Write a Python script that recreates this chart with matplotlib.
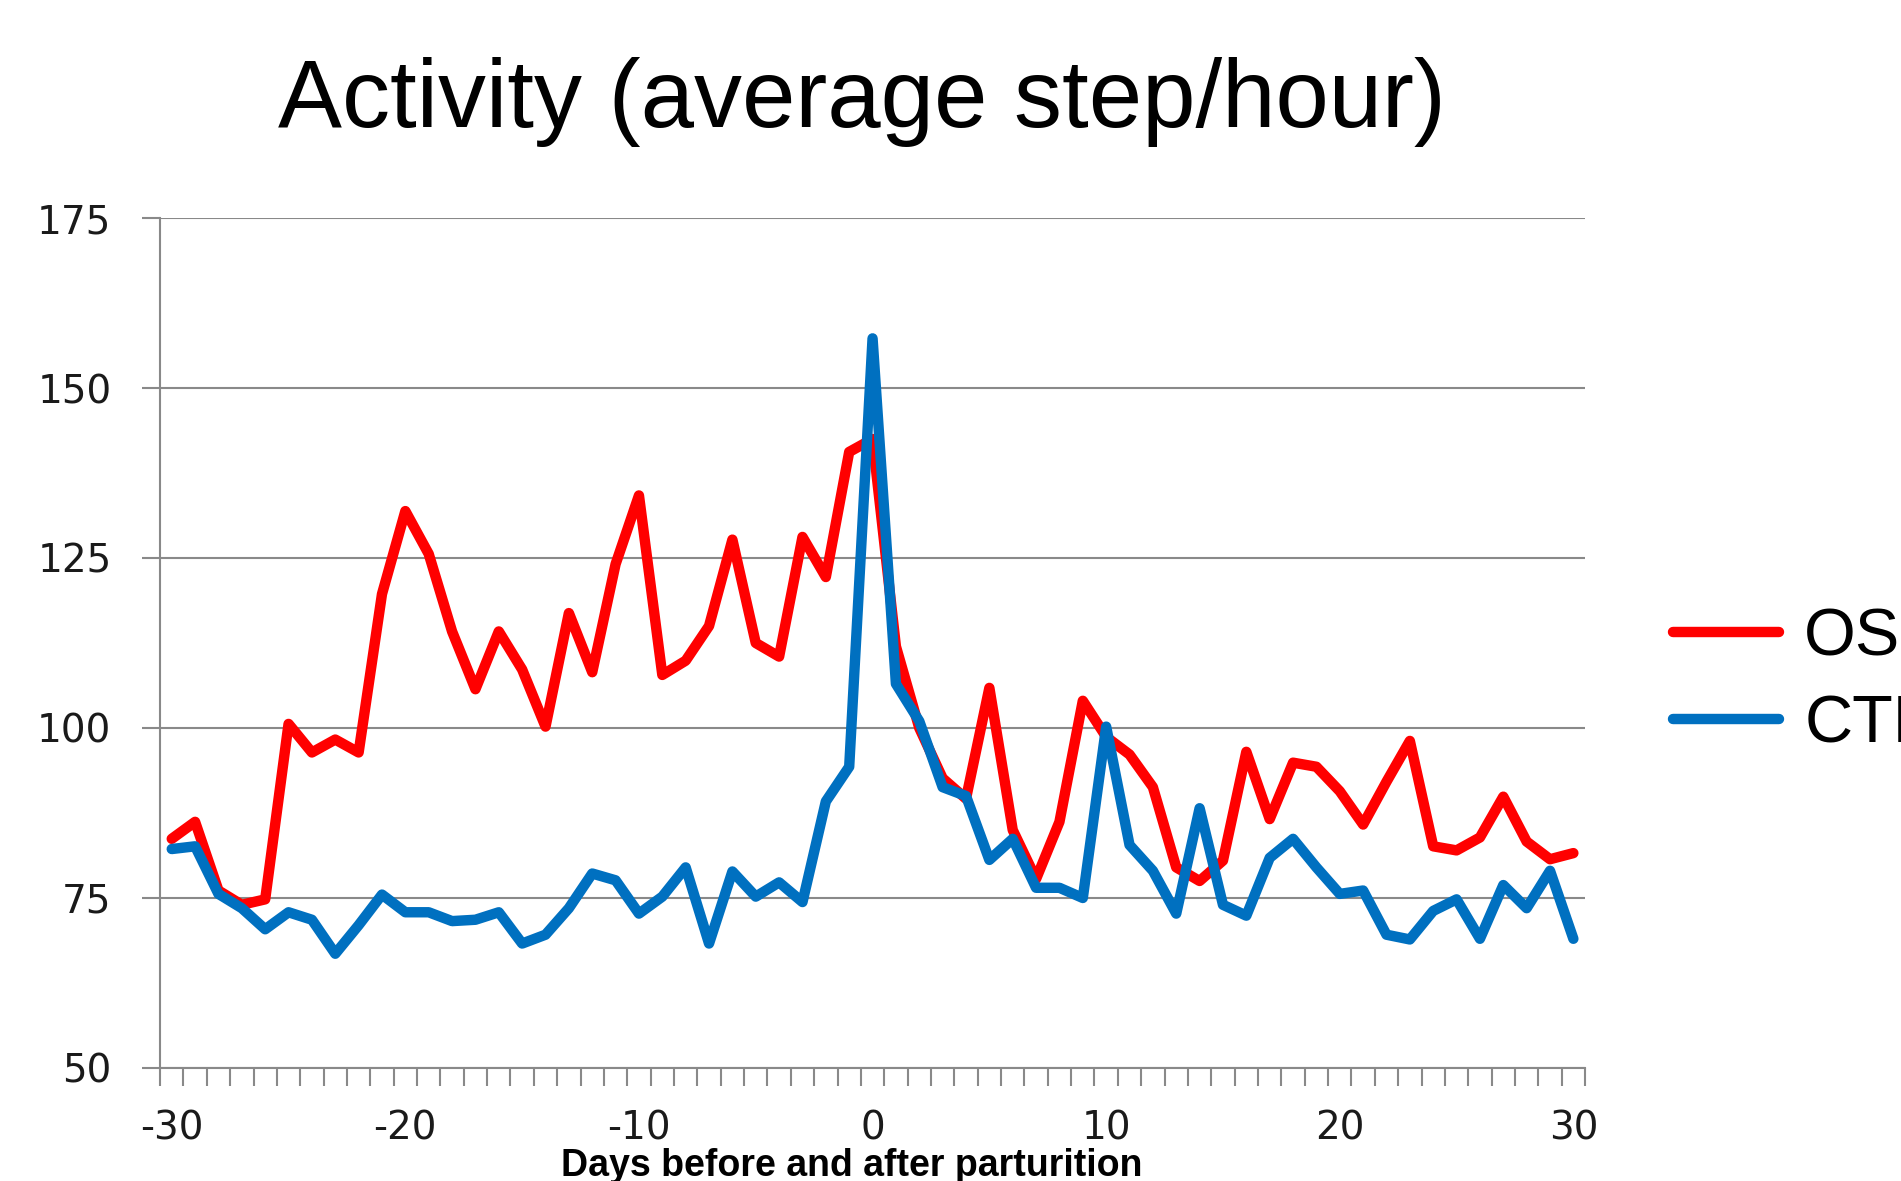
import matplotlib
matplotlib.use("Agg")
import matplotlib.pyplot as plt
import numpy as np

# Days before/after parturition
days = list(range(-30, 31))

# Average steps/hour
os_steps = [83.7, 86.2, 76.1, 74.0, 74.8, 100.6, 96.4, 98.3, 96.4, 119.7,
            131.9, 125.6, 114.2, 105.7, 114.2, 108.6, 100.2, 116.9, 108.2, 124.1,
            134.2, 107.8, 109.9, 115.0, 127.7, 112.5, 110.5, 128.1, 122.2, 140.6,
            142.5,
            112.0, 100.0, 92.6, 89.6, 105.9, 85.0, 77.8, 86.2, 104.0, 98.7,
            96.1, 91.3, 79.5, 77.5, 80.5, 96.5, 86.6, 94.9, 94.3, 90.7,
            85.8, 92.1, 98.1, 82.6, 82.0, 83.9, 89.9, 83.3, 80.7, 81.6]

ctr_steps = [82.2, 82.6, 75.6, 73.5, 70.4, 72.9, 71.8, 66.8, 71.0, 75.5,
             72.9, 72.9, 71.6, 71.8, 72.9, 68.3, 69.6, 73.5, 78.6, 77.6,
             72.7, 75.2, 79.5, 68.3, 78.9, 75.2, 77.3, 74.4, 89.2, 94.3,
             157.3,
             106.5, 101.0, 91.3, 90.0, 80.6, 83.7, 76.5, 76.5, 75.0, 100.2,
             82.8, 79.0, 72.7, 88.2, 74.0, 72.4, 80.9, 83.7, 79.5, 75.6,
             76.1, 69.6, 68.9, 73.1, 74.8, 69.0, 76.9, 73.5, 79.0, 69.0]

y_ticks = [50, 75, 100, 125, 150, 175]
x_labels = [-30, -20, -10, 0, 10, 20, 30]

grey = "#898989"

fig = plt.figure(figsize=(19.01, 11.81), dpi=100)
ax = fig.add_axes([0.0842, 0.0957, 0.7496, 0.7197])

ax.plot(days, os_steps, color="#FF0000", linewidth=7.5, label="OS",
        solid_joinstyle="round", solid_capstyle="round")
ax.plot(days, ctr_steps, color="#0070C0", linewidth=7.5, label="CTR",
        solid_joinstyle="round", solid_capstyle="round")

ax.set_xlim(-30.5, 30.5)
ax.set_ylim(50, 175)

# y axis
ax.set_yticks(y_ticks)
ax.set_yticklabels([str(v) for v in y_ticks])
ax.yaxis.grid(True, color=grey, linewidth=1.5)
ax.set_axisbelow(True)

# x axis: labels at data points, tick marks between categories
ax.set_xticks(x_labels)
ax.set_xticklabels([str(v) for v in x_labels])
ax.set_xticks(np.arange(-30.5, 31.0, 1.0), minor=True)
ax.tick_params(axis="x", which="major", length=0, pad=30, labelsize=28,
               labelcolor="#1a1a1a")
ax.tick_params(axis="x", which="minor", length=13, width=1.5, color=grey,
               direction="out")
ax.tick_params(axis="y", which="major", length=13, width=1.5, color=grey,
               pad=22, labelsize=28, labelcolor="#1a1a1a")

for side in ["top", "right"]:
    ax.spines[side].set_visible(False)
for side in ["left", "bottom"]:
    ax.spines[side].set_color(grey)
    ax.spines[side].set_linewidth(1.5)

fig.text(0.4535, 0.8925, "Activity (average step/hour)", ha="center",
         va="baseline", fontsize=69, family="Liberation Sans")
fig.text(0.448, 0.0045, "Days before and after parturition", ha="center",
         va="baseline", fontsize=27, fontweight="bold", family="Liberation Sans")

leg = fig.legend(loc="center left", bbox_to_anchor=(0.880, 0.4225),
                 frameon=False, borderpad=0, borderaxespad=0,
                 handlelength=1.59, handletextpad=0.38, labelspacing=0.37,
                 prop={"family": "Liberation Sans", "size": 48})

fig.savefig("out.png", dpi=100)
